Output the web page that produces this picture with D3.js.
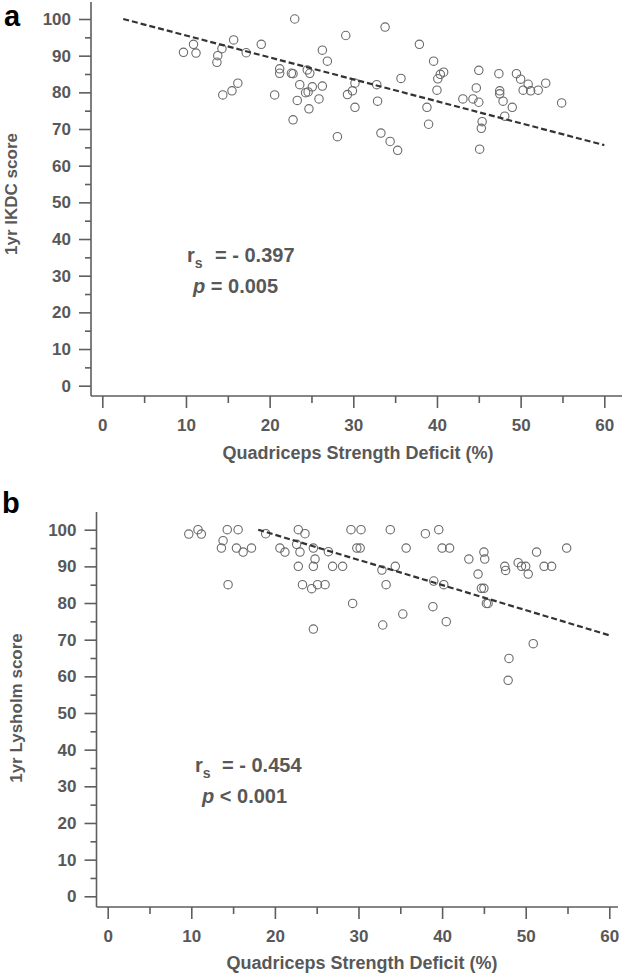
<!DOCTYPE html>
<html><head><meta charset="utf-8">
<script src="https://cdn.jsdelivr.net/npm/d3@7"></script>
<style>body{margin:0;background:#fff}svg{display:block}text{font-family:"Liberation Sans",Arial,sans-serif;font-weight:bold}</style>
</head><body><svg id="c" width="629" height="975"></svg>
<script>
// ---- data ----
const xTicks = [0,10,20,30,40,50,60];
const xMinor = [5,15,25,35,45,55];
const yTicks = [0,10,20,30,40,50,60,70,80,90,100];
const yMinor = [5,15,25,35,45,55,65,75,85,95];
const xTitle = "Quadriceps Strength Deficit (%)";

const ikdcX = [9.7,10.9,11.2,13.7,13.8,14.3,14.4,15.7,15.5,16.2,17.2,19.0,20.6,21.2,21.2,22.6,22.8,23.0,22.8,23.3,23.6,24.3,24.6,24.5,24.8,25.1,24.7,25.9,
  26.3,26.9,29.1,33.8,37.9,39.6,40.8,40.4,40.1,40.0,38.8,39.0,35.7,32.8,32.9,33.3,34.4,35.3,28.1,30.2,29.9,29.3,30.2,26.3,
  43.1,44.3,45.0,44.7,45.0,45.4,45.3,45.1,47.4,47.5,47.5,47.9,48.1,49.0,49.5,50.0,50.9,50.3,51.2,52.1,53.0,54.9];
const ikdcY = [90.9,93.1,90.7,88.2,90.0,91.9,79.3,94.3,80.4,82.5,90.8,93.1,79.3,86.4,85.2,85.2,85.1,100,72.5,77.8,82.1,79.9,80.1,86.1,85.2,81.5,75.5,78.2,
  91.5,88.5,95.5,97.8,93.1,88.5,85.5,84.9,83.7,80.6,75.9,71.3,83.8,82.1,77.6,68.9,66.6,64.2,67.9,82.5,80.4,79.4,75.9,81.7,
  78.2,78.2,77.3,81.2,86.0,72.0,70.2,64.5,85.1,80.4,79.6,77.6,73.5,75.9,85.1,83.6,82.2,80.6,80.4,80.6,82.5,77.1];
const ikdcFitX = [2.5,60];
const ikdcFitY = [100,65.6];

const lysX = [9.7,10.8,11.2,13.8,13.6,14.4,14.3,15.6,15.4,16.2,17.2,18.9,20.6,21.2,22.8,23.6,22.6,23.0,24.6,24.8,24.6,22.8,23.3,24.4,25.1,24.6,
  26.0,26.4,26.9,28.1,29.1,30.3,29.8,30.2,29.3,33.8,32.8,34.4,33.3,32.9,35.7,35.3,38.0,39.6,40.0,40.9,39.0,40.2,38.9,40.5,
  43.2,45.0,45.1,44.3,44.7,45.0,45.3,45.5,47.5,47.6,48.0,47.9,49.1,49.5,50.0,50.3,51.3,50.9,52.2,53.1,54.9];
const lysY = [98.8,100,98.8,97.0,95.0,85.0,100,100,95.0,93.9,95.0,98.9,95.0,93.9,100,98.9,96.0,93.9,95.0,92.0,90.0,90.0,85.0,83.9,85.0,72.9,
  85.0,94.0,90.0,90.0,100,100,95.0,95.0,79.9,100,89.0,90.0,85.0,74.0,95.0,77.0,98.9,100,95.0,95.0,86.0,85.0,79.0,74.9,
  92.0,93.9,92.0,87.9,84.0,84.0,79.9,79.9,90.0,88.9,64.9,58.9,91.0,90.0,90.0,87.9,93.9,68.9,90.0,90.0,95.0];
const lysFitX = [18,60];
const lysFitY = [100,71.2];

// ---- drawing ----
const svg = d3.select("#c");
const txt = "#585858", axc = "#5e5e5e";

function panel(o){
  const x = d3.scaleLinear().domain([0,60]).range([o.x0,o.x60]);
  const y = d3.scaleLinear().domain([0,100]).range([o.y0,o.y100]);
  const g = svg.append("g");
  g.append("line").attr("x1",o.ax).attr("x2",o.ax).attr("y1",o.ayTop).attr("y2",o.ay)
    .attr("stroke",axc).attr("stroke-width",1.6);
  g.append("line").attr("x1",o.ax).attr("x2",o.axRight).attr("y1",o.ay).attr("y2",o.ay)
    .attr("stroke",axc).attr("stroke-width",1.6);
  const ya = g.append("g").attr("transform",`translate(${o.ax},0)`)
    .call(d3.axisLeft(y).tickValues(yTicks).tickSize(12).tickPadding(8).tickFormat(d3.format("d")));
  const ym = g.append("g").attr("transform",`translate(${o.ax},0)`)
    .call(d3.axisLeft(y).tickValues(yMinor).tickSize(6).tickFormat(""));
  const xa = g.append("g").attr("transform",`translate(0,${o.ay})`)
    .call(d3.axisBottom(x).tickValues(xTicks).tickSize(12).tickPadding(11).tickFormat(d3.format("d")));
  const xm = g.append("g").attr("transform",`translate(0,${o.ay})`)
    .call(d3.axisBottom(x).tickValues(xMinor).tickSize(7).tickFormat(""));
  [ya,ym,xa,xm].forEach(a=>{
    a.select(".domain").remove();
    a.selectAll("line").attr("stroke",axc).attr("stroke-width",1.6);
    a.selectAll("text").attr("fill",txt).attr("font-size",17)
      .attr("font-family",'"Liberation Sans",Arial,sans-serif').attr("font-weight","bold");
  });
  g.append("text").attr("x",o.xtX).attr("y",o.xtY).attr("text-anchor","middle")
    .attr("font-size",18).attr("fill",txt).text(xTitle);
  g.append("text").attr("transform",`translate(${o.ytX},${o.ytY}) rotate(-90)`)
    .attr("text-anchor","middle").attr("font-size",17).attr("fill",txt).text(o.yTitle);
  g.append("text").attr("x",o.lx).attr("y",o.ly).attr("font-size",29).attr("fill","#000").text(o.label);
  g.selectAll("circle").data(o.xs.map((v,i)=>[v,o.ys[i]])).join("circle")
    .attr("cx",d=>x(d[0])).attr("cy",d=>y(d[1])).attr("r",4.2)
    .attr("fill","none").attr("stroke","#6a6a6a").attr("stroke-width",1.1);
  g.append("path").datum(o.fx.map((v,i)=>[v,o.fy[i]]))
    .attr("d",d3.line().x(d=>x(d[0])).y(d=>y(d[1])))
    .attr("stroke","#333").attr("stroke-width",2.2).attr("stroke-dasharray","6,3").attr("fill","none");
  const t1 = g.append("text").attr("x",o.rx).attr("y",o.ry).attr("font-size",20).attr("fill",txt);
  t1.append("tspan").text("r");
  t1.append("tspan").attr("font-size",14).attr("dy",6).text("s");
  t1.append("tspan").attr("x",o.eqx).attr("dy",-6).attr("style","white-space:pre").text("= - " + o.r);
  const t2 = g.append("text").attr("x",o.px).attr("y",o.py).attr("font-size",20).attr("fill",txt);
  t2.append("tspan").attr("font-style","italic").text("p");
  t2.append("tspan").text(" " + o.p);
}

panel({x0:102.3,x60:604.3,y0:385.7,y100:19,ax:91,ay:396,ayTop:2,axRight:622,
  xtX:358,xtY:459,ytX:17,ytY:194,yTitle:"1yr IKDC score",label:"a",lx:4,ly:26,
  xs:ikdcX,ys:ikdcY,fx:ikdcFitX,fy:ikdcFitY,
  rx:187,ry:262,eqx:215,r:"0.397",px:193,py:293,p:"= 0.005"});
panel({x0:107.7,x60:609.3,y0:896.3,y100:529.7,ax:96.5,ay:907,ayTop:512,axRight:618,
  xtX:362,xtY:969,ytX:22,ytY:708,yTitle:"1yr Lysholm score",label:"b",lx:2,ly:513,
  xs:lysX,ys:lysY,fx:lysFitX,fy:lysFitY,
  rx:195,ry:772,eqx:222,r:"0.454",px:202,py:803,p:"< 0.001"});
</script></body></html>
